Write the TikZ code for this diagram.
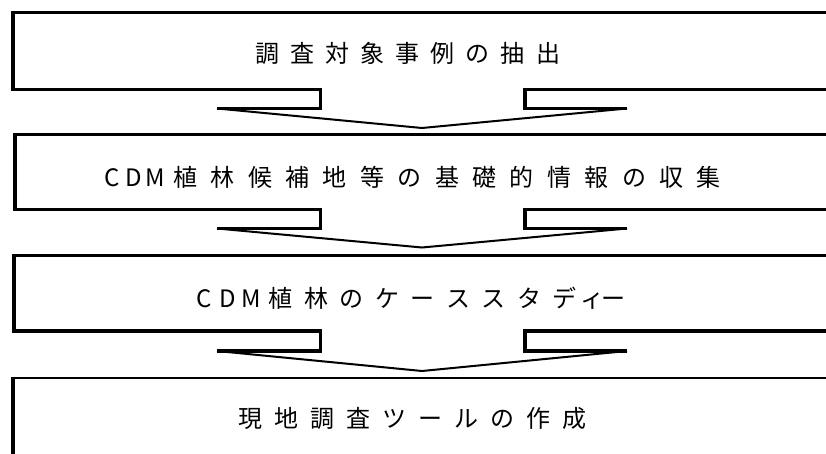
\documentclass[tikz,border=0pt]{standalone}
\usepackage{fontspec}
\newfontfamily\jp{Noto Sans CJK JP}
\makeatletter
\newcommand\cells[2]{\@tfor\cl@ch:=#2\do{\makebox[#1]{\cl@ch}}}
\makeatother
\tikzset{
  topline/.style={line width=2.6pt},
  leftline/.style={line width=4pt},
  botline/.style={line width=3.3pt},
  diagline/.style={line width=2pt},
  txt/.style={anchor=base west, inner sep=0pt, font=\jp\fontsize{24}{24}\selectfont},
}
\newcommand\stagebox[3]{% left x, top y, bottom y
  \draw[topline] (#1-2,#2) -- (840,#2);
  \draw[leftline] (#1,#2-1.3) -- (#1,#3+1.65);
}
\newcommand\stagearrow[4]{% left x, bottom y, notch y, tip y
  \draw[botline] (#1-2,#2) -- (320.5,#2) -- (320.5,#3) -- (217,#3);
  \draw[diagline] (217,#3) -- (422,#4) -- (627,#3);
  \draw[botline] (627,#3) -- (525,#3) -- (525,#2) -- (840,#2);
}
\begin{document}
\begin{tikzpicture}[x=1pt,y=-1pt,line join=miter]
\useasboundingbox (0,0) rectangle (826,453);
\clip (0,0) rectangle (826,453);
% box 1
\stagebox{12.5}{12.5}{89.2}
\stagearrow{12.5}{89.2}{108.5}{128}
\node[txt] (t1) at (249.5,62) {\cells{35.1pt}{調査対象事例の抽出}};
% box 2
\stagebox{15}{134.5}{209.5}
\stagearrow{15}{209.5}{228.5}{247.5}
\node[txt] (t2) at (100.5,186) {\cells{22pt}{CDM}\cells{37.4pt}{植林候補地等の基礎的情報の収集}};
% box 3
\stagebox{13.5}{255.5}{331}
\stagearrow{13.5}{331}{351}{371}
\node[txt] (t3) at (192.25,307) {\cells{23.5pt}{CDM}\cells{35.5pt}{植林のケーススタデ}\cells{21pt}{ィー}};
% box 4
\draw[topline] (10.5,378) -- (840,378);
\draw[leftline] (12.5,376.7) -- (12.5,460);
\node[txt] (t4) at (232,427) {\cells{36pt}{現地調査ツールの作成}};
\end{tikzpicture}
\end{document}
